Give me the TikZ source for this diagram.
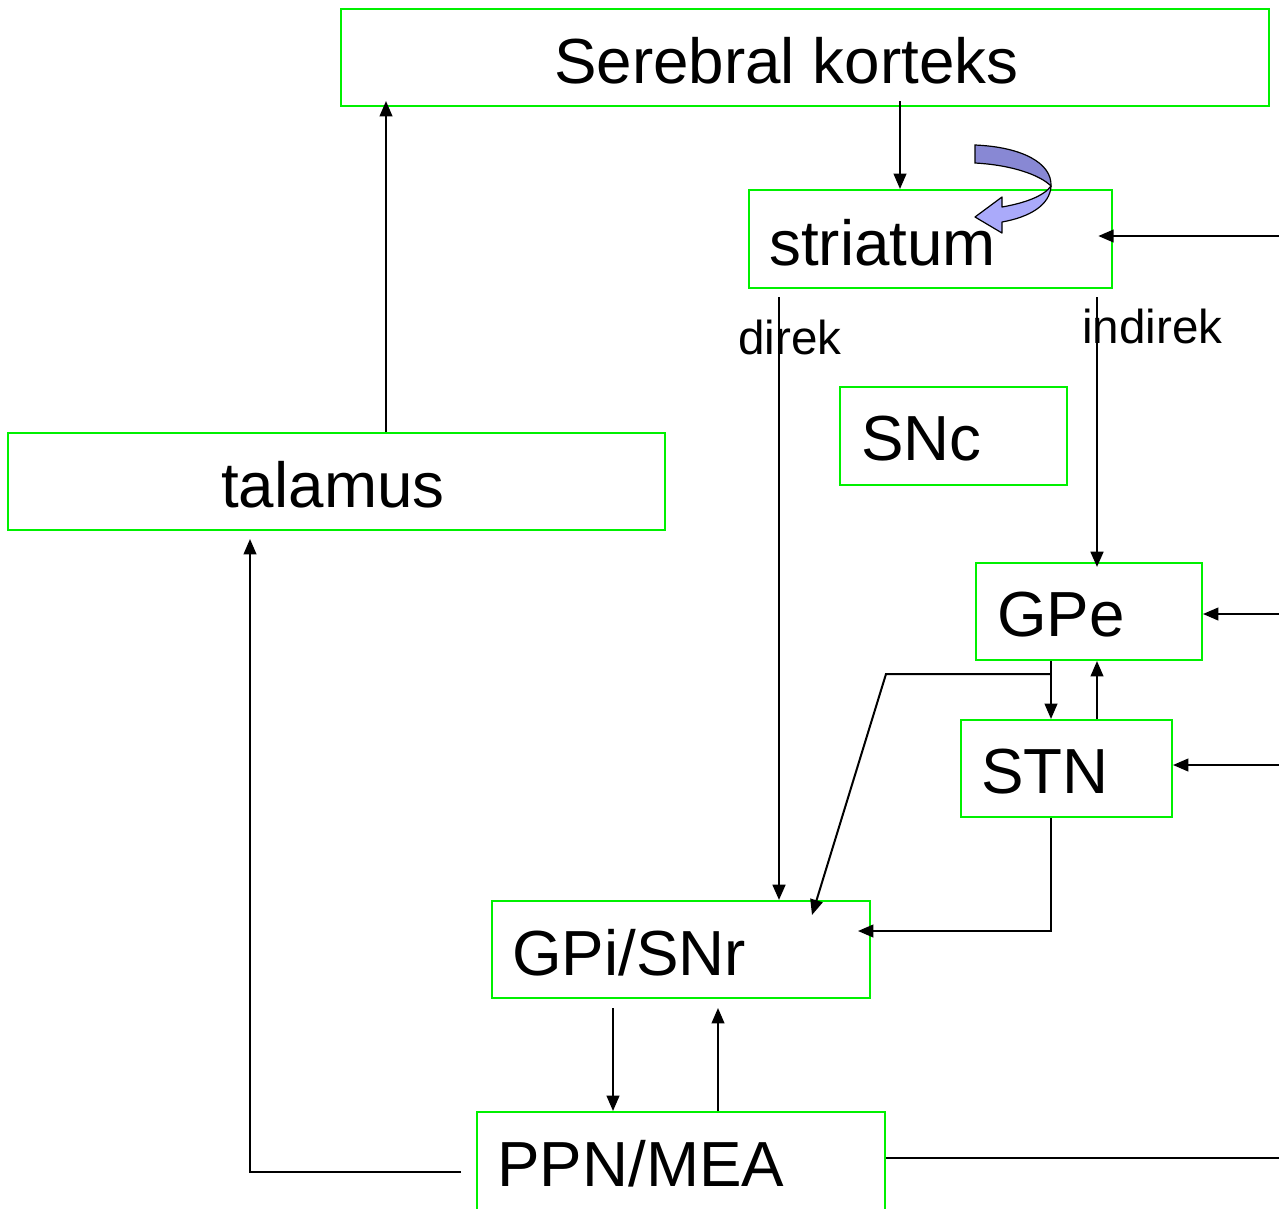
\documentclass[tikz,border=0pt]{standalone}
\usepackage{fontspec}
\setmainfont{Liberation Sans}
\usetikzlibrary{arrows.meta,fit,calc}
\definecolor{bx}{RGB}{0,240,0}
\definecolor{arrlight}{RGB}{170,170,250}
\definecolor{arrdark}{RGB}{136,136,212}
\begin{document}
\begin{tikzpicture}[x=0.75pt,y=-0.75pt,
  box/.style={draw=bx, line width=1.5pt, inner sep=0pt},
  big/.style={font=\fontsize{47.8}{54}\selectfont, anchor=base west, inner sep=0pt},
  small/.style={font=\fontsize{35.7}{40}\selectfont, anchor=base west, inner sep=0pt},
  arr/.style={line width=1.5pt, -{Triangle[length=11.5pt,width=9.5pt]}},
  thick arr/.style={arr, line width=2pt},
  ln/.style={line width=1.5pt}]
\useasboundingbox (0,0) rectangle (1279,1208);

% boxes
\node[box, fit={(341,9) (1269,106)}] (kort) {};
\node[box, fit={(749,190) (1112,288)}] (str) {};
\node[box, fit={(840,387) (1067,485)}] (snc) {};
\node[box, fit={(8,433) (665,530)}] (tal) {};
\node[box, fit={(976,563) (1202,660)}] (gpe) {};
\node[box, fit={(961,720) (1172,817)}] (stn) {};
\node[box, fit={(492,901) (870,998)}] (gpi) {};
\node[box, fit={(477,1112) (885,1240)}] (ppn) {};

% texts
\node[big] (tkort) at (554,83) {Serebral korteks};
\node[big] (tstr) at (769,265) {striatum};
\node[big] (tsnc) at (861,460) {SNc};
\node[big] (ttal) at (221,507) {talamus};
\node[big] (tgpe) at (997,636) {GPe};
\node[big] (tstn) at (981,793) {STN};
\node[big] (tgpi) at (512,975) {GPi/SNr};
\node[big] (tppn) at (497,1186) {PPN/MEA};
\node[small] (ldir) at (738,354) {direk};
\node[small] (lind) at (1082,343) {indirek};

% helper coordinates
\coordinate (xa) at (900,0);
\coordinate (xb) at (386,0);
\coordinate (xc) at (779,0);
\coordinate (xd) at (1097,0);
\coordinate (xe) at (1051,0);
\coordinate (xf) at (613,0);
\coordinate (xg) at (718,0);
\coordinate (r1) at (1279,236);
\coordinate (r2) at (1279,614);
\coordinate (r3) at (1279,765);
\coordinate (r4) at (1279,1158);
\coordinate (k1) at (886,674);
\coordinate (k2) at (812,915);
\coordinate (k3) at (1051,931);
\coordinate (k4) at (461,1172);
\coordinate (k5) at (250,1172);

% connectors
\draw[arr] ([yshift=4.5pt]kort.south -| xa) -- (str.north -| xa);
\draw[arr] (tal.north -| xb) -- ([yshift=4.5pt]kort.south -| xb);
\draw[thick arr] ([yshift=-6pt]str.south -| xc) -- (gpi.north -| xc);
\draw[thick arr] ([yshift=-6pt]str.south -| xd) -- ([yshift=-3.75pt]gpe.north -| xd);
\draw[arr] (r1) -- ([xshift=-11pt]str.east |- r1);
\draw[arr] (r2) -- (gpe.east |- r2);
\draw[arr] (r3) -- (stn.east |- r3);
\draw[arr] (gpe.south -| xe) -- (stn.north -| xe);
\draw[arr] (stn.north -| xd) -- (gpe.south -| xd);
\draw[arr] (k1 -| xe) -- (k1) -- (k2);
\draw[arr] (stn.south -| xe) -- (k3) -- ([xshift=-9.75pt]gpi.east |- k3);
\draw[arr] ([yshift=-6.75pt]gpi.south -| xf) -- (ppn.north -| xf);
\draw[arr] (ppn.north -| xg) -- ([yshift=-6.75pt]gpi.south -| xg);
\draw[arr] (k4) -- (k5) -- ([yshift=-6pt]tal.south -| k5);
\draw[ln] (ppn.east |- r4) -- (r4);

% curved self arrow on striatum
\draw[line width=0.9pt, fill=arrdark]
  (975,145) .. controls (1022,147) and (1052,163) .. (1051,186)
  .. controls (1040,175) and (1012,165) .. (975,163) -- cycle;
\draw[line width=0.9pt, fill=arrlight, line join=round]
  (1051,186) .. controls (1050,205) and (1030,217) .. (1002,222)
  -- (1002,233) -- (975,217) -- (1002,197) -- (1002,207)
  .. controls (1025,203) and (1044,196) .. (1051,186) -- cycle;
\end{tikzpicture}
\end{document}
